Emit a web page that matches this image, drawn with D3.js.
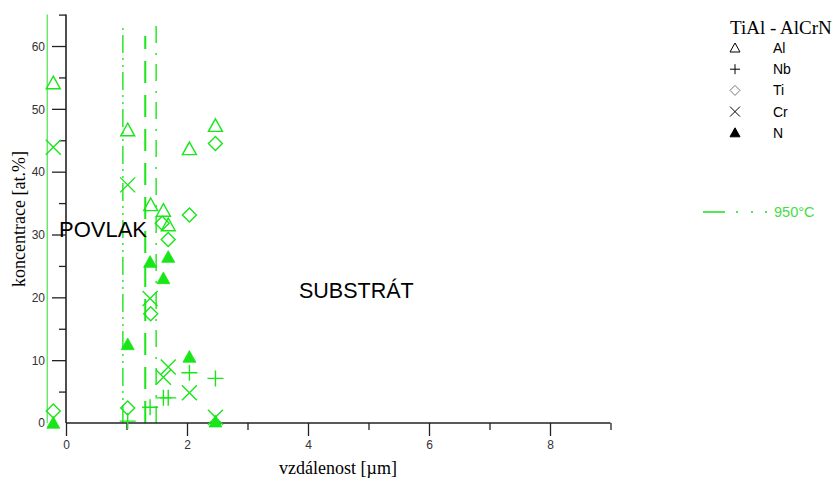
<!DOCTYPE html>
<html lang="cs">
<head>
<meta charset="UTF-8">
<title>TiAl - AlCrN</title>
<script src="https://d3js.org/d3.v7.min.js"></script>
<style>
  body { margin: 0; background: #fff; }
  svg { display: block; }
  .tick text { font-family: Arial, "Liberation Sans", sans-serif; font-size: 12px; fill: #333; }
  .serif { font-family: "Liberation Serif", "Times New Roman", serif; }
  .sans { font-family: Arial, "Liberation Sans", sans-serif; }
</style>
</head>
<body>
<div id="chart"></div>
<script>
// element profiles, x in µm, y in at.%
const alX = [-0.21, 1.02, 1.40, 1.61, 1.69, 2.04, 2.47];
const alY = [54.1, 46.6, 34.7, 33.8, 31.5, 43.6, 47.3];
const nbX = [1.02, 1.39, 1.61, 1.69, 2.04, 2.47];
const nbY = [0.3, 2.5, 4.0, 4.0, 8.0, 7.1];
const tiX = [-0.21, 1.02, 1.40, 1.59, 1.69, 2.04, 2.47];
const tiY = [1.9, 2.4, 17.4, 31.8, 29.2, 33.1, 44.5];
const crX = [-0.21, 1.02, 1.39, 1.61, 1.69, 2.04, 2.47];
const crY = [43.9, 37.9, 19.8, 7.3, 8.9, 4.8, 0.9];
const nX = [-0.21, 1.02, 1.39, 1.61, 1.69, 2.04, 2.47];
const nY = [0.0, 12.5, 25.6, 23.0, 26.4, 10.5, 0.2];

// interface boundaries
const boundX = [-0.31, 0.94, 1.31, 1.49];
const boundTop = [65, 63, 61.6, 63.5];
const boundDash = [null, "18,5,2,5,2,5", "22,12", "17,9,2,10"];

const seriesNames = ["Al", "Nb", "Ti", "Cr", "N"];
const seriesShapes = ["triangle", "plus", "diamond", "cross", "triangleFilled"];
const xTicks = [0, 2, 4, 6, 8];
const yTicks = [0, 10, 20, 30, 40, 50, 60];

const W = 833, H = 480;
const green = "#19e619";

const svg = d3.select("#chart").append("svg")
    .attr("width", W).attr("height", H);

const x = d3.scaleLinear().domain([0, 9]).range([66, 610.5]);
const y = d3.scaleLinear().domain([0, 65]).range([423, 14.6]);

// boundary lines
svg.append("g").selectAll("line")
    .data(boundX)
    .enter().append("line")
    .attr("x1", d => x(d)).attr("x2", d => x(d))
    .attr("y1", y(0))
    .attr("y2", (d, i) => y(boundTop[i]))
    .attr("stroke", (d, i) => i === 0 ? "#66e666" : green)
    .attr("stroke-width", (d, i) => i === 2 ? 2 : 1.4)
    .attr("stroke-dasharray", (d, i) => boundDash[i]);

// axes
const xAxis = d3.axisBottom(x).tickValues(d3.range(0, 10)).tickSize(7)
    .tickFormat(d => xTicks.includes(d) ? d : "");
const gx = svg.append("g").attr("transform", `translate(0,${y(0)})`).call(xAxis);
gx.selectAll(".tick line").attr("y2", d => d % 2 === 0 ? 13 : 7);
gx.selectAll(".tick text").attr("dy", "1.3em");

const yAxis = d3.axisLeft(y).tickValues(d3.range(5, 66, 5)).tickSize(7)
    .tickFormat(d => yTicks.includes(d) ? d : "");
const gy = svg.append("g").attr("transform", `translate(${x(0)},0)`).call(yAxis);
gy.selectAll(".tick line").attr("x2", d => d % 10 === 0 ? -14 : -7);
gy.selectAll(".tick text").attr("x", -21).attr("dy", "0.35em");
// zero label on y
gy.append("text").attr("x", -21).attr("y", y(0)).attr("dy", "0.35em")
    .attr("text-anchor", "end").attr("class", "sans")
    .attr("font-size", 12).attr("fill", "#333").text("0");

[gx, gy].forEach(g => {
  g.select(".domain").attr("stroke", "#222").attr("stroke-width", 1.6);
  g.selectAll(".tick line").attr("stroke", "#222").attr("stroke-width", 1.3);
});
gy.select(".domain").attr("d", `M0,${y(65)}V${y(0)}`);
gx.select(".domain").attr("d", `M${x(0)},0H${x(9)}`);

// marker paths
function shapePath(kind, s) {
  const h = s / 2;
  switch (kind) {
    case "triangle":
    case "triangleFilled":
      return `M0,${-h}L${h},${h * 0.8}L${-h},${h * 0.8}Z`;
    case "diamond":
      return `M0,${-h}L${h},0L0,${h}L${-h},0Z`;
    case "plus":
      return `M${-h},0H${h}M0,${-h}V${h}`;
    case "cross":
      return `M${-h},${-h}L${h},${h}M${-h},${h}L${h},${-h}`;
  }
}

const series = [
  { xs: alX, ys: alY }, { xs: nbX, ys: nbY }, { xs: tiX, ys: tiY },
  { xs: crX, ys: crY }, { xs: nX, ys: nY }
];
const sizes = { triangle: 14, triangleFilled: 13, diamond: 14, plus: 16, cross: 15 };

series.forEach((s, i) => {
  const kind = seriesShapes[i];
  svg.append("g").selectAll("path")
      .data(s.xs.map((v, j) => [v, s.ys[j]]))
      .enter().append("path")
      .attr("transform", d => `translate(${x(d[0])},${y(d[1])})`)
      .attr("d", shapePath(kind, sizes[kind]))
      .attr("fill", kind === "triangleFilled" ? green : "none")
      .attr("stroke", green)
      .attr("stroke-width", kind === "triangleFilled" ? 0.8 : 1.4);
});

// region labels
svg.append("text").attr("class", "sans").attr("x", 59).attr("y", 237)
    .attr("font-size", 22).attr("fill", "#000").text("POVLAK");
svg.append("text").attr("class", "sans").attr("x", 299).attr("y", 298)
    .attr("font-size", 21.5).attr("fill", "#000").text("SUBSTRÁT");

// axis titles
svg.append("text").attr("class", "serif").attr("text-anchor", "middle")
    .attr("x", 338).attr("y", 474).attr("font-size", 18).text("vzdálenost [µm]");
svg.append("text").attr("class", "serif").attr("text-anchor", "middle")
    .attr("transform", "translate(25,219) rotate(-90)")
    .attr("font-size", 18).text("koncentrace [at.%]");

// legend
const leg = svg.append("g");
leg.append("text").attr("class", "serif").attr("x", 730).attr("y", 34)
    .attr("font-size", 19).text("TiAl - AlCrN");
seriesNames.forEach((name, i) => {
  const ry = 48 + i * 21.2;
  const kind = seriesShapes[i];
  leg.append("path")
      .attr("transform", `translate(735,${ry})`)
      .attr("d", shapePath(kind, 10))
      .attr("fill", kind === "triangleFilled" ? "#000" : "none")
      .attr("stroke", kind === "diamond" ? "#777" : "#000")
      .attr("stroke-width", 1);
  leg.append("text").attr("class", "sans").attr("x", 773).attr("y", ry)
      .attr("dy", "0.36em").attr("font-size", 14).text(name);
});

leg.append("line").attr("x1", 703).attr("x2", 768).attr("y1", 212).attr("y2", 212)
    .attr("stroke", "#55e655").attr("stroke-width", 2)
    .attr("stroke-dasharray", "22,11,2,13,2,12,2,20");
leg.append("text").attr("class", "sans").attr("x", 774).attr("y", 212)
    .attr("dy", "0.36em").attr("font-size", 14.5).attr("fill", "#44dd44").text("950°C");
</script>
</body>
</html>
